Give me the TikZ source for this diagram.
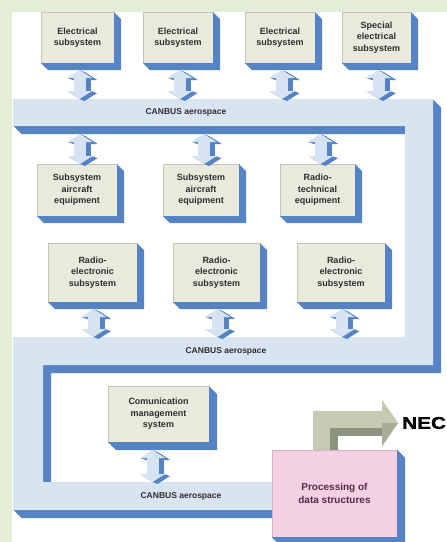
\documentclass[tikz,border=0pt]{standalone}
\usepackage{fontspec}
\setmainfont{Liberation Sans}
\newfontfamily\necfont[FakeBold=1.2]{Liberation Sans Bold}
\usepackage{graphicx}
\usetikzlibrary{arrows.meta}
\definecolor{bggreen}{HTML}{E3EDD8}
\definecolor{sblue}{HTML}{5583C3}
\definecolor{buslight}{HTML}{D9E4F1}
\definecolor{boxface}{HTML}{EAEADC}
\definecolor{boxedge}{HTML}{C4C4B4}
\definecolor{arrlight}{HTML}{D6E3F2}
\definecolor{pinkface}{HTML}{F4D0E3}
\definecolor{pinkedge}{HTML}{D9AFC4}
\definecolor{pinktext}{HTML}{552A45}
\definecolor{neclight}{HTML}{C6CAB3}
\definecolor{necmid}{HTML}{A7AC98}
\definecolor{necdark}{HTML}{8D9381}
\definecolor{txt}{HTML}{2E2E2E}
\newcommand\extrude[2]{\fill[sblue] (#1.north east) -- ++(#2,#2) -- ([shift={(#2,#2)}]#1.south east) -- ([shift={(#2,#2)}]#1.south west) -- (#1.south west) -- (#1.south east) -- cycle;}
\newcommand\dbl[2]{\foreach \k in {1,...,5} {\draw[dbshadow] ([shift={(\k,0.4*\k)}]#1) -- ([shift={(\k,0.4*\k)}]#2);} \draw[dblight] (#1) -- (#2);}
\newcommand\busshape{(13,99) -- (433,99) -- (433,365) -- (43,365) -- (43,482) -- (290,482) -- (290,510) -- (13,510) -- (13,337) -- (405,337) -- (405,126) -- (13,126) -- cycle}
\begin{document}
\begin{tikzpicture}[x=1pt,y=-1pt,
 ebox/.style={fill=boxface, draw=boxedge, line width=0.3pt, inner sep=0pt, outer sep=0pt, align=center, text=txt, font=\fontsize{9}{11.5}\selectfont\bfseries},
 bustext/.style={text=txt, font=\fontsize{8.5}{10}\selectfont\bfseries, inner sep=0pt},
 dblight/.style={draw=arrlight, line width=12pt, {Triangle[width=25pt,length=8pt]}-{Triangle[width=25pt,length=8pt]}},
 dbshadow/.style={draw=sblue, line width=12pt, {Triangle[width=25pt,length=8pt]}-{Triangle[width=25pt,length=8pt]}},
]
\useasboundingbox (0,0) rectangle (447,542);
\fill[bggreen] (0,0) rectangle (447,542);
\fill[white] (12,12) rectangle (447,542);

% buses
\foreach \i in {1,...,8} {\fill[sblue, shift={(\i,\i)}] \busshape;}
\fill[buslight] \busshape;
\node[bustext] (bt1) at (186,112) {CANBUS aerospace};
\node[bustext] (bt2) at (226,351) {CANBUS aerospace};
\node[bustext] (bt3) at (181,496) {CANBUS aerospace};
\coordinate (b1top) at (0,99);
\coordinate (b1bot) at (0,134);
\coordinate (b2top) at (0,337);
\coordinate (b3top) at (0,482);

% top row
\node[ebox, minimum width=73pt, minimum height=51pt] (t1) at (77.5,37.5) {Electrical\\subsystem};
\node[ebox, minimum width=70pt, minimum height=51pt] (t2) at (178,37.5) {Electrical\\subsystem};
\node[ebox, minimum width=70pt, minimum height=51pt] (t3) at (280,37.5) {Electrical\\subsystem};
\node[ebox, minimum width=69pt, minimum height=51pt] (t4) at (376.5,37.5) {Special\\electrical\\subsystem};
\foreach \n in {t1,t2,t3,t4} {\extrude{\n}{7}}

% second row
\node[ebox, minimum width=80pt, minimum height=52pt] (r1) at (77,190) {Subsystem\\aircraft\\equipment};
\node[ebox, minimum width=76pt, minimum height=52pt] (r2) at (201,190) {Subsystem\\aircraft\\equipment};
\node[ebox, minimum width=75pt, minimum height=52pt] (r3) at (317.5,190) {Radio-\\technical\\equipment};
\foreach \n in {r1,r2,r3} {\extrude{\n}{7}}

% third row
\node[ebox, minimum width=89pt, minimum height=59pt] (s1) at (92.5,272.5) {Radio-\\electronic\\subsystem};
\node[ebox, minimum width=87pt, minimum height=59pt] (s2) at (216.5,272.5) {Radio-\\electronic\\subsystem};
\node[ebox, minimum width=88pt, minimum height=59pt] (s3) at (341,272.5) {Radio-\\electronic\\subsystem};
\foreach \n in {s1,s2,s3} {\extrude{\n}{7}}

% communication box
\node[ebox, minimum width=101pt, minimum height=56pt] (cm) at (158.5,414) {Comunication\\management\\system};
\extrude{cm}{8}

% arrows top row <-> bus 1
\foreach \n in {t1,t2,t3,t4} {
  \coordinate (\n s) at ([shift={(2,7)}]\n.south);
  \coordinate (\n e) at (\n s |- b1top);
  \dbl{\n s}{\n e}
}
% arrows bus 1 <-> row 2
\foreach \n in {r1,r2,r3} {
  \coordinate (\n e) at ([xshift=3pt]\n.north);
  \coordinate (\n s) at (\n e |- b1bot);
  \dbl{\n s}{\n e}
}
% arrows row 3 <-> bus 2
\foreach \n in {s1,s2,s3} {
  \coordinate (\n s) at ([shift={(1,7)}]\n.south);
  \coordinate (\n e) at (\n s |- b2top);
  \dbl{\n s}{\n e}
}
% comm <-> bus 3
\coordinate (cms) at ([shift={(-6,8)}]cm.south);
\coordinate (cme) at (cms |- b3top);
\dbl{cms}{cme}

% NEC arrow
\node[anchor=west, inner sep=0pt, font=\fontsize{17}{17}\selectfont\necfont] (nec) at (402,423) {\scalebox{1.22}[1]{NEC}};
\coordinate (pkn) at (334.5,450);
\coordinate (necs) at ([xshift=-9pt]pkn);
\coordinate (nece) at ([xshift=-4pt]nec.west);
\draw[line width=25pt, neclight, -{Triangle[width=46pt,length=16pt]}] (necs) |- (nece);
\fill[necmid] ([xshift=-16pt]nece) -- (nece) -- ([shift={(-16,23)}]nece) -- cycle;
\draw[line width=8pt, necdark] ([xshift=8.5pt]necs) |- ([shift={(-16,8.5)}]nece);

% processing box
\node[fill=pinkface, draw=pinkedge, line width=0.3pt, inner sep=0pt, minimum width=125pt, minimum height=87pt, align=center, text=pinktext, font=\fontsize{10}{13}\selectfont\bfseries] (pk) at (334.5,493.5) {Processing of\\data structures};
\extrude{pk}{8}
\end{tikzpicture}
\end{document}
